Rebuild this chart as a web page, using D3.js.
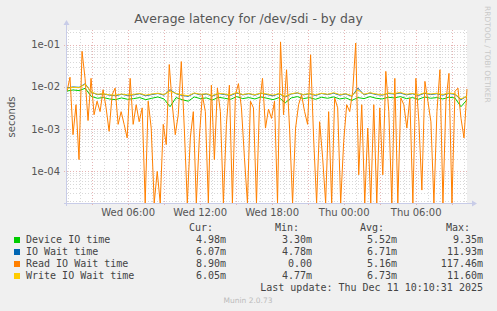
<!DOCTYPE html>
<html><head><meta charset="utf-8">
<script src="https://cdn.jsdelivr.net/npm/d3@7"></script>
<style>
html,body{margin:0;padding:0;background:#f0f0f0;}
text{font-family:"DejaVu Sans",sans-serif;}
.mono{font-family:"DejaVu Sans Mono",monospace;}
</style></head>
<body><svg id="c" width="497" height="311"></svg>
<script>
const title = "Average latency for /dev/sdi - by day";
const yTicks = [1e-1, 1e-2, 1e-3, 1e-4];
const yTickLabels = ["1e-01", "1e-02", "1e-03", "1e-04"];
const seriesNames = ["Device IO time", "IO Wait time", "Read IO Wait time", "Write IO Wait time"];
const seriesColors = ["#00cc00", "#0066b3", "#ff8000", "#ffcc00"];
const curVals = ["4.98m", "6.07m", "8.90m", "6.05m"];
const minVals = ["3.30m", "4.78m", "0.00", "4.77m"];
const avgVals = ["5.52m", "6.71m", "5.16m", "6.73m"];
const maxVals = ["9.35m", "11.93m", "117.46m", "11.60m"];
const lastUpdate = "Last update: Thu Dec 11 10:10:31 2025";

const startTime = new Date(2025, 11, 10, 0, 54);
const endTime = new Date(2025, 11, 11, 10, 14);

const device = [8.0e-3,8.5e-3,8.2e-3,9.3e-3,6.0e-3,5.4e-3,5.6e-3,5.2e-3,5.0e-3,5.5e-3,5.1e-3,5.3e-3,5.6e-3,5.0e-3,5.4e-3,5.8e-3,5.2e-3,3.4e-3,5.6e-3,5.0e-3,4.6e-3,5.8e-3,5.3e-3,5.5e-3,4.9e-3,5.7e-3,5.4e-3,5.1e-3,5.9e-3,5.3e-3,5.6e-3,5.2e-3,5.8e-3,5.4e-3,5.0e-3,5.6e-3,4.2e-3,5.5e-3,5.9e-3,5.3e-3,5.6e-3,5.1e-3,5.7e-3,5.4e-3,5.8e-3,5.2e-3,5.5e-3,4.8e-3,5.6e-3,5.3e-3,5.9e-3,5.4e-3,5.2e-3,5.7e-3,5.5e-3,5.9e-3,5.3e-3,5.6e-3,5.1e-3,5.8e-3,5.4e-3,5.6e-3,5.2e-3,5.7e-3,5.5e-3,3.4e-3,4.98e-3];
const ioWait = [9.5e-3,1.0e-2,9.8e-3,1.19e-2,7.5e-3,6.6e-3,6.8e-3,6.4e-3,6.2e-3,6.7e-3,6.3e-3,6.5e-3,6.9e-3,6.2e-3,6.6e-3,7.0e-3,6.4e-3,8.6e-3,6.9e-3,6.3e-3,6.0e-3,7.1e-3,6.5e-3,6.8e-3,6.1e-3,7.0e-3,6.6e-3,6.3e-3,7.2e-3,6.5e-3,6.9e-3,6.4e-3,7.1e-3,6.6e-3,6.2e-3,6.9e-3,5.8e-3,6.8e-3,7.2e-3,6.5e-3,6.9e-3,6.3e-3,7.0e-3,6.6e-3,7.1e-3,6.4e-3,6.8e-3,6.0e-3,9.4e-3,6.5e-3,7.2e-3,6.6e-3,6.4e-3,7.0e-3,6.8e-3,7.2e-3,6.5e-3,6.9e-3,6.3e-3,7.1e-3,6.6e-3,6.9e-3,6.4e-3,7.0e-3,6.7e-3,5.0e-3,6.07e-3];
const readWait = [7.9e-3,0.017,7.4e-4,3.8e-3,1.9e-4,0.07,0.016,1.6e-3,0.016,2.2e-3,4.6e-3,2.6e-3,8.6e-3,3.2e-3,8.9e-4,6.5e-3,9.4e-3,1.3e-3,2.6e-3,1.3e-3,6.2e-4,0.016,1.3e-3,3.8e-3,1.5e-3,3.2e-3,0,4.6e-3,1.06e-3,0,1e-4,0,1.3e-3,4.3e-4,0.034,3.8e-3,7.4e-4,2.2e-3,0.04,1.06e-3,0,6.2e-4,2.6e-3,0,6.2e-4,6.5e-3,2.6e-3,0,0.011,1.9e-4,9.4e-3,2.6e-3,0,1.3e-3,0.011,0,6.5e-3,0.012,3.2e-3,2.1e-4,0,4.6e-3,3.2e-3,0,3.8e-3,0.016,1.06e-3,3e-3,1.8e-3,4.6e-3,0,0.117,2.2e-3,0.0256,1.06e-3,0,1.06e-3,3.8e-3,6.5e-3,2.6e-3,1.3e-3,0.058,6.2e-4,0,1.5e-3,2.1e-4,0,2.6e-3,0,5.5e-3,3.2e-3,0,5.1e-4,3.8e-3,2.6e-3,7.9e-3,0.11,8.3e-5,3.8e-3,0,1.06e-3,0,3.8e-3,0,3.2e-3,8.3e-5,0.0234,2.6e-3,0,0.016,0,5.5e-3,3.8e-3,1.06e-3,5.5e-3,0,0.016,1.5e-3,3.6e-5,0.0136,4.6e-3,1.5e-3,0,2.6e-3,0.0256,0,4.6e-3,0.021,0,7.9e-3,9.4e-3,1.8e-3,6.2e-4,8.9e-3];
const writeWait = [9.2e-3,9.8e-3,9.6e-3,1.16e-2,7.6e-3,6.7e-3,6.9e-3,6.5e-3,6.4e-3,6.8e-3,6.5e-3,6.7e-3,7.0e-3,6.4e-3,6.8e-3,7.1e-3,6.6e-3,8.0e-3,7.0e-3,6.5e-3,6.2e-3,7.2e-3,6.7e-3,6.9e-3,6.3e-3,7.1e-3,6.8e-3,6.5e-3,7.4e-3,6.6e-3,7.0e-3,6.5e-3,7.2e-3,6.8e-3,6.4e-3,7.0e-3,6.0e-3,6.9e-3,7.3e-3,6.6e-3,7.0e-3,6.5e-3,7.1e-3,6.7e-3,7.3e-3,6.6e-3,6.9e-3,6.2e-3,8.5e-3,6.7e-3,7.3e-3,6.8e-3,6.5e-3,7.2e-3,7.0e-3,7.4e-3,6.7e-3,7.0e-3,6.5e-3,7.3e-3,6.8e-3,7.1e-3,6.6e-3,7.2e-3,6.9e-3,5.2e-3,6.05e-3];

const svg = d3.select("#c");
const L = 67, R = 467, T = 30, B = 203;
const yMin = Math.pow(10, -4.75), yMax = Math.pow(10, -0.65);
const x = d3.scaleTime().domain([startTime, endTime]).range([L, R]);
const y = d3.scaleLog().domain([yMin, yMax]).range([B, T]).clamp(true);

svg.append("rect").attr("x", L).attr("y", T).attr("width", R - L).attr("height", B - T).attr("fill", "#fff");

const minorCol = "#d8d8d8", majorCol = "#e6b4b4";
// minor y grid
const minorY = [];
for (let e = -5; e <= -1; e++) for (let m = 2; m <= 9; m++) { const v = m * Math.pow(10, e); if (v > yMin && v < yMax) minorY.push(v); }
svg.append("g").selectAll("line").data(minorY).join("line")
  .attr("x1", L).attr("x2", R).attr("y1", d => Math.round(y(d)) + 0.5).attr("y2", d => Math.round(y(d)) + 0.5)
  .attr("stroke", minorCol).attr("stroke-dasharray", "1,2");
// minor x grid (hourly)
const hours = d3.timeHour.range(startTime, endTime).filter(d => d.getHours() % 3 !== 0);
svg.append("g").selectAll("line").data(hours).join("line")
  .attr("x1", d => Math.round(x(d)) + 0.5).attr("x2", d => Math.round(x(d)) + 0.5).attr("y1", T).attr("y2", B)
  .attr("stroke", minorCol).attr("stroke-dasharray", "1,2");
// major grids
const major3 = d3.timeHour.every(3).range(startTime, endTime);
svg.append("g").selectAll("line").data(major3).join("line")
  .attr("x1", d => Math.round(x(d)) + 0.5).attr("x2", d => Math.round(x(d)) + 0.5).attr("y1", T).attr("y2", B + 3)
  .attr("stroke", majorCol).attr("stroke-dasharray", "1,2");
svg.append("g").selectAll("line").data(yTicks).join("line")
  .attr("x1", L - 3).attr("x2", R).attr("y1", d => Math.round(y(d)) + 0.5).attr("y2", d => Math.round(y(d)) + 0.5)
  .attr("stroke", majorCol).attr("stroke-dasharray", "1,2");

// series
const mk = (arr) => arr.map((v, i) => ({ t: new Date(+startTime + i * (endTime - startTime) / (arr.length - 1)), v: v }));
const line = d3.line().x(d => x(d.t)).y(d => y(Math.max(d.v, yMin)));
const order = [[device, 0], [ioWait, 1], [readWait, 2], [writeWait, 3]];
order.forEach(([arr, k]) => {
  svg.append("path").datum(mk(arr)).attr("d", line).attr("fill", "none")
    .attr("stroke", seriesColors[k]).attr("stroke-width", 1);
});

// axes
svg.append("line").attr("x1", L - 0.5).attr("x2", L - 0.5).attr("y1", B + 3).attr("y2", T - 6).attr("stroke", "#c8cce8");
svg.append("path").attr("d", `M${L - 3.5},${T - 5} L${L - 0.5},${T - 10} L${L + 2.5},${T - 5} Z`).attr("fill", "#c8cce8");
svg.append("line").attr("x1", L - 3).attr("x2", R + 6).attr("y1", B + 0.5).attr("y2", B + 0.5).attr("stroke", "#c8cce8");
svg.append("path").attr("d", `M${R + 5},${B - 2.5} L${R + 10},${B + 0.5} L${R + 5},${B + 3.5} Z`).attr("fill", "#c8cce8");

// tick labels
svg.append("g").selectAll("text").data(yTicks).join("text")
  .attr("x", 60).attr("y", d => y(d) + 3.5).attr("text-anchor", "end")
  .attr("font-size", "10px").attr("fill", "#555").text((d, i) => yTickLabels[i]);
const xLab = d3.timeHour.every(6).range(startTime, endTime);
const fmt = d3.timeFormat("%a %H:%M");
svg.append("g").selectAll("text").data(xLab).join("text")
  .attr("x", d => x(d)).attr("y", 216).attr("text-anchor", "middle")
  .attr("font-size", "10px").attr("fill", "#555").text(d => fmt(d));

// titles
svg.append("text").attr("x", 248.5).attr("y", 23).attr("text-anchor", "middle")
  .attr("font-size", "12.4px").attr("fill", "#555").text(title);
svg.append("text").attr("transform", "translate(15,117) rotate(-90)").attr("text-anchor", "middle")
  .attr("font-size", "10px").attr("fill", "#555").text("seconds");
svg.append("text").attr("transform", "translate(485,6) rotate(90)").attr("text-anchor", "start")
  .attr("font-size", "7.5px").attr("fill", "#c8c8c8").text("RRDTOOL / TOBI OETIKER");

// legend
const lg = svg.append("g");
const hdr = [["Cur:", 213], ["Min:", 299], ["Avg:", 384], ["Max:", 470]];
hdr.forEach(([t, xr]) => lg.append("text").attr("class", "mono").attr("x", xr).attr("y", 231).attr("text-anchor", "end")
  .attr("font-size", "10px").attr("fill", "#444").text(t));
seriesNames.forEach((n, i) => {
  const yy = 243 + i * 12;
  lg.append("rect").attr("x", 14).attr("y", yy - 6).attr("width", 6).attr("height", 6).attr("fill", seriesColors[i]);
  lg.append("text").attr("class", "mono").attr("x", 26).attr("y", yy).attr("font-size", "10px").attr("fill", "#444").text(n);
  [[curVals, 226], [minVals, 312], [avgVals, 397], [maxVals, 483]].forEach(([arr, xr]) => {
    lg.append("text").attr("class", "mono").attr("x", xr).attr("y", yy).attr("text-anchor", "end")
      .attr("font-size", "10px").attr("fill", "#444").text(arr[i]);
  });
});
lg.append("text").attr("class", "mono").attr("x", 483).attr("y", 291).attr("text-anchor", "end")
  .attr("font-size", "10px").attr("fill", "#444").text(lastUpdate);
svg.append("text").attr("x", 248).attr("y", 303).attr("text-anchor", "middle")
  .attr("font-size", "7.5px").attr("fill", "#bbb").text("Munin 2.0.73");
</script></body></html>
